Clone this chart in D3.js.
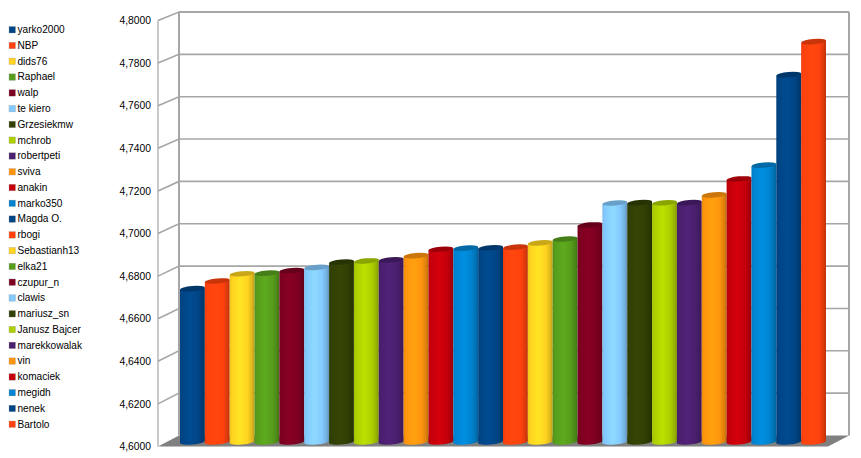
<!DOCTYPE html>
<html><head><meta charset="utf-8">
<script src="https://cdn.jsdelivr.net/npm/d3@7"></script>
<style>html,body{margin:0;padding:0;background:#fff}svg{display:block}text{font-family:"Liberation Sans",Arial,sans-serif;fill:#000}</style>
</head><body><svg id="c" width="861" height="458"></svg>
<script>
const names = ["yarko2000","NBP","dids76","Raphael","walp","te kiero","Grzesiekmw","mchrob","robertpeti","sviva","anakin","marko350","Magda O.","rbogi","Sebastianh13","elka21","czupur_n","clawis","mariusz_sn","Janusz Bajcer","marekkowalak","vin","komaciek","megidh","nenek","Bartolo"];
const values = [4.672,4.6756,4.679,4.6793,4.6805,4.682,4.6845,4.685,4.6855,4.6875,4.6905,4.691,4.6912,4.6915,4.6935,4.6953,4.7019,4.7122,4.7124,4.7123,4.7124,4.716,4.7235,4.73,4.7725,4.788];
const palette = ["#004586","#ff420e","#ffd320","#579d1c","#7e0021","#83caff","#314004","#aecf00","#4b1f6f","#ff950e","#c5000b","#0084d1"];
const tickValues = [4.6,4.62,4.64,4.66,4.68,4.7,4.72,4.74,4.76,4.78,4.8];
const grey = "#a6a6a6";

const svg = d3.select("#c");
const yFront = d3.scaleLinear().domain([4.6,4.8]).range([446.5,20.5]);
const yBack  = d3.scaleLinear().domain([4.6,4.8]).range([435.5,12]);
const yBar   = d3.scaleLinear().domain([4.6,4.8]).range([442,16]);
const x = d3.scaleBand().domain(names).range([180,826]).padding(0);
const legendY = d3.scalePoint().domain(names).range([29.5,424]);
const colorOf = d3.scaleOrdinal().domain(names).range(palette);

// gradients
const defs = svg.append("defs");
palette.forEach((c,i)=>{
  const g = defs.append("linearGradient").attr("id","g"+i);
  const base = d3.color(c);
  [[0,base.darker(0.2)],[0.1,base],[0.42,base.brighter(0.22)],[0.72,base],[0.9,base.darker(0.4)],[1,base.darker(0.85)]]
   .forEach(([o,col])=>g.append("stop").attr("offset",o).attr("stop-color",col.formatRgb()));
});

// floor
const xL=158,xB=179,xR=828,xRB=849;
svg.append("path").attr("fill","#808080")
  .attr("d",`M${xL},${yFront(4.6)}L${xB},${yBack(4.6)}L${xRB},${yBack(4.6)}L${xR},${yFront(4.6)}Z`);

// walls
const grid = svg.append("g").attr("fill","none").attr("stroke",grey).attr("stroke-width",1.6);
grid.selectAll(".b").data(tickValues.slice(1)).join("path")
  .attr("d",v=>`M${xL},${yFront(v)}L${xB},${yBack(v)}L${xRB},${yBack(v)}`);
grid.append("path").attr("d",`M${xL},${yFront(4.6)}V${yFront(4.8)}`).attr("stroke-width",1.2);
grid.append("path").attr("stroke-width",2).attr("d",`M${xB},${yBack(4.6)}V${yBack(4.8)}`);
grid.append("path").attr("stroke-width",2).attr("d",`M${xRB},${yBack(4.6)}V${yBack(4.8)}`);
grid.append("path").attr("stroke-width",2).attr("d",`M${xB},${yBack(4.8)}H${xRB}`);

// axis labels
const ax = svg.append("g").attr("transform","translate(151,0)")
  .call(d3.axisLeft(yFront).tickValues(tickValues).tickSize(0).tickPadding(0).tickFormat(v=>d3.format(".4f")(v).replace(".",",")));
ax.select(".domain").remove();
ax.selectAll("text").attr("font-size",10.3).attr("font-family",'"Liberation Sans",Arial,sans-serif').attr("fill","#000");

// cylinders: tilted caps follow the oblique view
const ry = 2.6, tilt = -5, bw = x.bandwidth(), lift = Math.sin(-tilt*Math.PI/180)*bw/2;
const bars = svg.append("g").selectAll("g").data(names).join("g");
bars.append("path").attr("fill",d=>`url(#g${names.indexOf(d)%12})`)
  .attr("d",(d,i)=>{
    const l=x(d), r=l+bw, t=yBar(values[i]), b=yBar(4.6);
    return `M${l},${t+lift}L${l},${b+lift}A${bw/2},${ry} ${tilt} 0 0 ${r},${b-lift}L${r},${t-lift}Z`;
  });
bars.append("ellipse")
  .attr("cx",d=>x(d)+bw/2).attr("cy",(d,i)=>yBar(values[i]))
  .attr("rx",bw/2).attr("ry",ry)
  .attr("transform",(d,i)=>`rotate(${tilt} ${x(d)+bw/2} ${yBar(values[i])})`)
  .attr("fill",d=>d3.color(colorOf(d)).darker(0.65).formatRgb());

// legend
const lg = svg.append("g").selectAll("g").data(names).join("g")
  .attr("transform",d=>`translate(9,${legendY(d)})`);
lg.append("rect").attr("x",0).attr("y",-3).attr("width",6.5).attr("height",6.5)
  .attr("fill",d=>colorOf(d)).attr("stroke","#999").attr("stroke-width",0.3);
lg.append("text").attr("x",8.5).attr("dy","0.35em").attr("font-size",10.1).text(d=>d);
</script></body></html>
